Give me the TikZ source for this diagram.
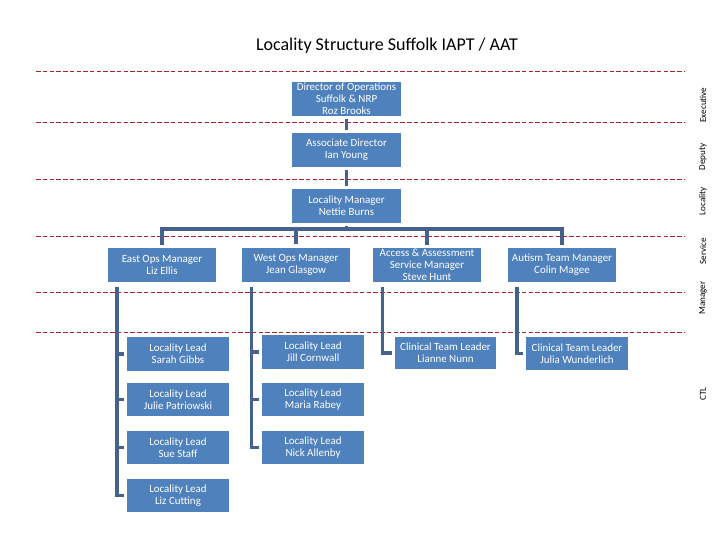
\documentclass[tikz,border=0pt]{standalone}
\usepackage{fontspec}
\setmainfont{Carlito}
\usetikzlibrary{positioning}
\definecolor{orgBlue}{RGB}{79,129,189}
\definecolor{orgLink}{RGB}{68,98,140}
\definecolor{bandRed}{RGB}{170,35,50}

\begin{document}
\begin{tikzpicture}[x=0.025cm,y=-0.025cm,
    orgbox/.style={fill=orgBlue,text=white,align=center,inner sep=0pt,
      minimum width=2.7cm,minimum height=0.85cm,font=\fontsize{7.8}{8.5}\selectfont},
    leadbox/.style={orgbox,minimum width=2.55cm,minimum height=0.83cm},
    link/.style={orgLink,line width=2.4pt},
    band/.style={bandRed,line width=0.6pt,dash pattern=on 3.2pt off 1.6pt},
    tier/.style={rotate=90,font=\fontsize{6.5}{7}\selectfont}]
  \useasboundingbox (0,0) rectangle (720,540);

  % title and bands
  \node[font=\fontsize{12.8}{15}\selectfont] (title) at (387,46) {Locality Structure Suffolk IAPT / AAT};
  \foreach \y in {71,122,179,236,292,332}
    \draw[band] (36,\y) -- (685,\y);
  \node[tier] (tExec) at (703,105) {Executive};
  \node[tier] (tDep) at (703,157) {Deputy};
  \node[tier] (tLoc) at (703,201) {Locality};
  \node[tier] (tServ) at (703,251) {Service};
  \node[tier] (tMan) at (703,298) {Manager};
  \node[tier] (tCtl) at (703,394) {CTL};

  % top of the tree
  \node[orgbox] (dir) at (346.5,99) {Director of Operations\\Suffolk \& NRP\\Roz Brooks};
  \node[orgbox] (assoc) at (346.5,150) {Associate Director\\Ian Young};
  \node[orgbox] (lm) at (346.5,206) {Locality Manager\\Nettie Burns};

  % service managers
  \node[orgbox] (east) at (162,265) {East Ops Manager\\Liz Ellis};
  \node[orgbox] (west) at (296,264.5) {West Ops Manager\\Jean Glasgow};
  \node[orgbox] (access) at (427,265) {Access \& Assessment\\Service Manager\\Steve Hunt};
  \node[orgbox] (autism) at (562,265) {Autism Team Manager\\Colin Magee};

  % leads
  \node[leadbox] (sarah) at (178,354) {Locality Lead\\Sarah Gibbs};
  \node[leadbox] (julie) at (178,399.5) {Locality Lead\\Julie Patriowski};
  \node[leadbox] (sue) at (178,447.5) {Locality Lead\\Sue Staff};
  \node[leadbox] (liz) at (178,495.5) {Locality Lead\\Liz Cutting};
  \node[leadbox] (jill) at (313,352) {Locality Lead\\Jill Cornwall};
  \node[leadbox] (maria) at (313,399.5) {Locality Lead\\Maria Rabey};
  \node[leadbox] (nick) at (313,447.5) {Locality Lead\\Nick Allenby};
  \node[leadbox,minimum width=2.525cm,minimum height=0.8cm] (lianne) at (445.5,353) {Clinical Team Leader\\Lianne Nunn};
  \node[leadbox] (julia) at (577,353.5) {Clinical Team Leader\\Julia Wunderlich};

  % connectors
  \draw[link] ([yshift=-0.7mm]dir.south) -- ([yshift=0.7mm]assoc.north);
  \draw[link] ([yshift=-0.7mm]assoc.south) -- ([yshift=0.7mm]lm.north);
  \coordinate (bar) at (346.5,229);
  \draw[link] ([yshift=-0.7mm]lm.south) -- (bar);
  \draw[link] ([yshift=0.7mm]east.north) |- (bar) -| ([yshift=0.7mm]autism.north);
  \foreach \n in {west,access}
    \draw[link] (bar -| \n.north) -- ([yshift=0.7mm]\n.north);

  \draw[link] ([xshift=2.3mm,yshift=-1.2mm]east.south west) coordinate (espine) |- ([xshift=-0.7mm]liz.west);
  \foreach \n in {sarah,julie,sue}
    \draw[link] (espine |- \n.west) -- ([xshift=-0.7mm]\n.west);
  \draw[link] ([xshift=2.5mm,yshift=-1.2mm]west.south west) coordinate (wspine) |- ([xshift=-0.7mm]nick.west);
  \foreach \n in {jill,maria}
    \draw[link] (wspine |- \n.west) -- ([xshift=-0.7mm]\n.west);
  \draw[link] ([xshift=2.5mm,yshift=-1.2mm]access.south west) |- ([xshift=-0.7mm]lianne.west);
  \draw[link] ([xshift=2.3mm,yshift=-1.2mm]autism.south west) |- ([xshift=-0.7mm]julia.west);
\end{tikzpicture}
\end{document}
